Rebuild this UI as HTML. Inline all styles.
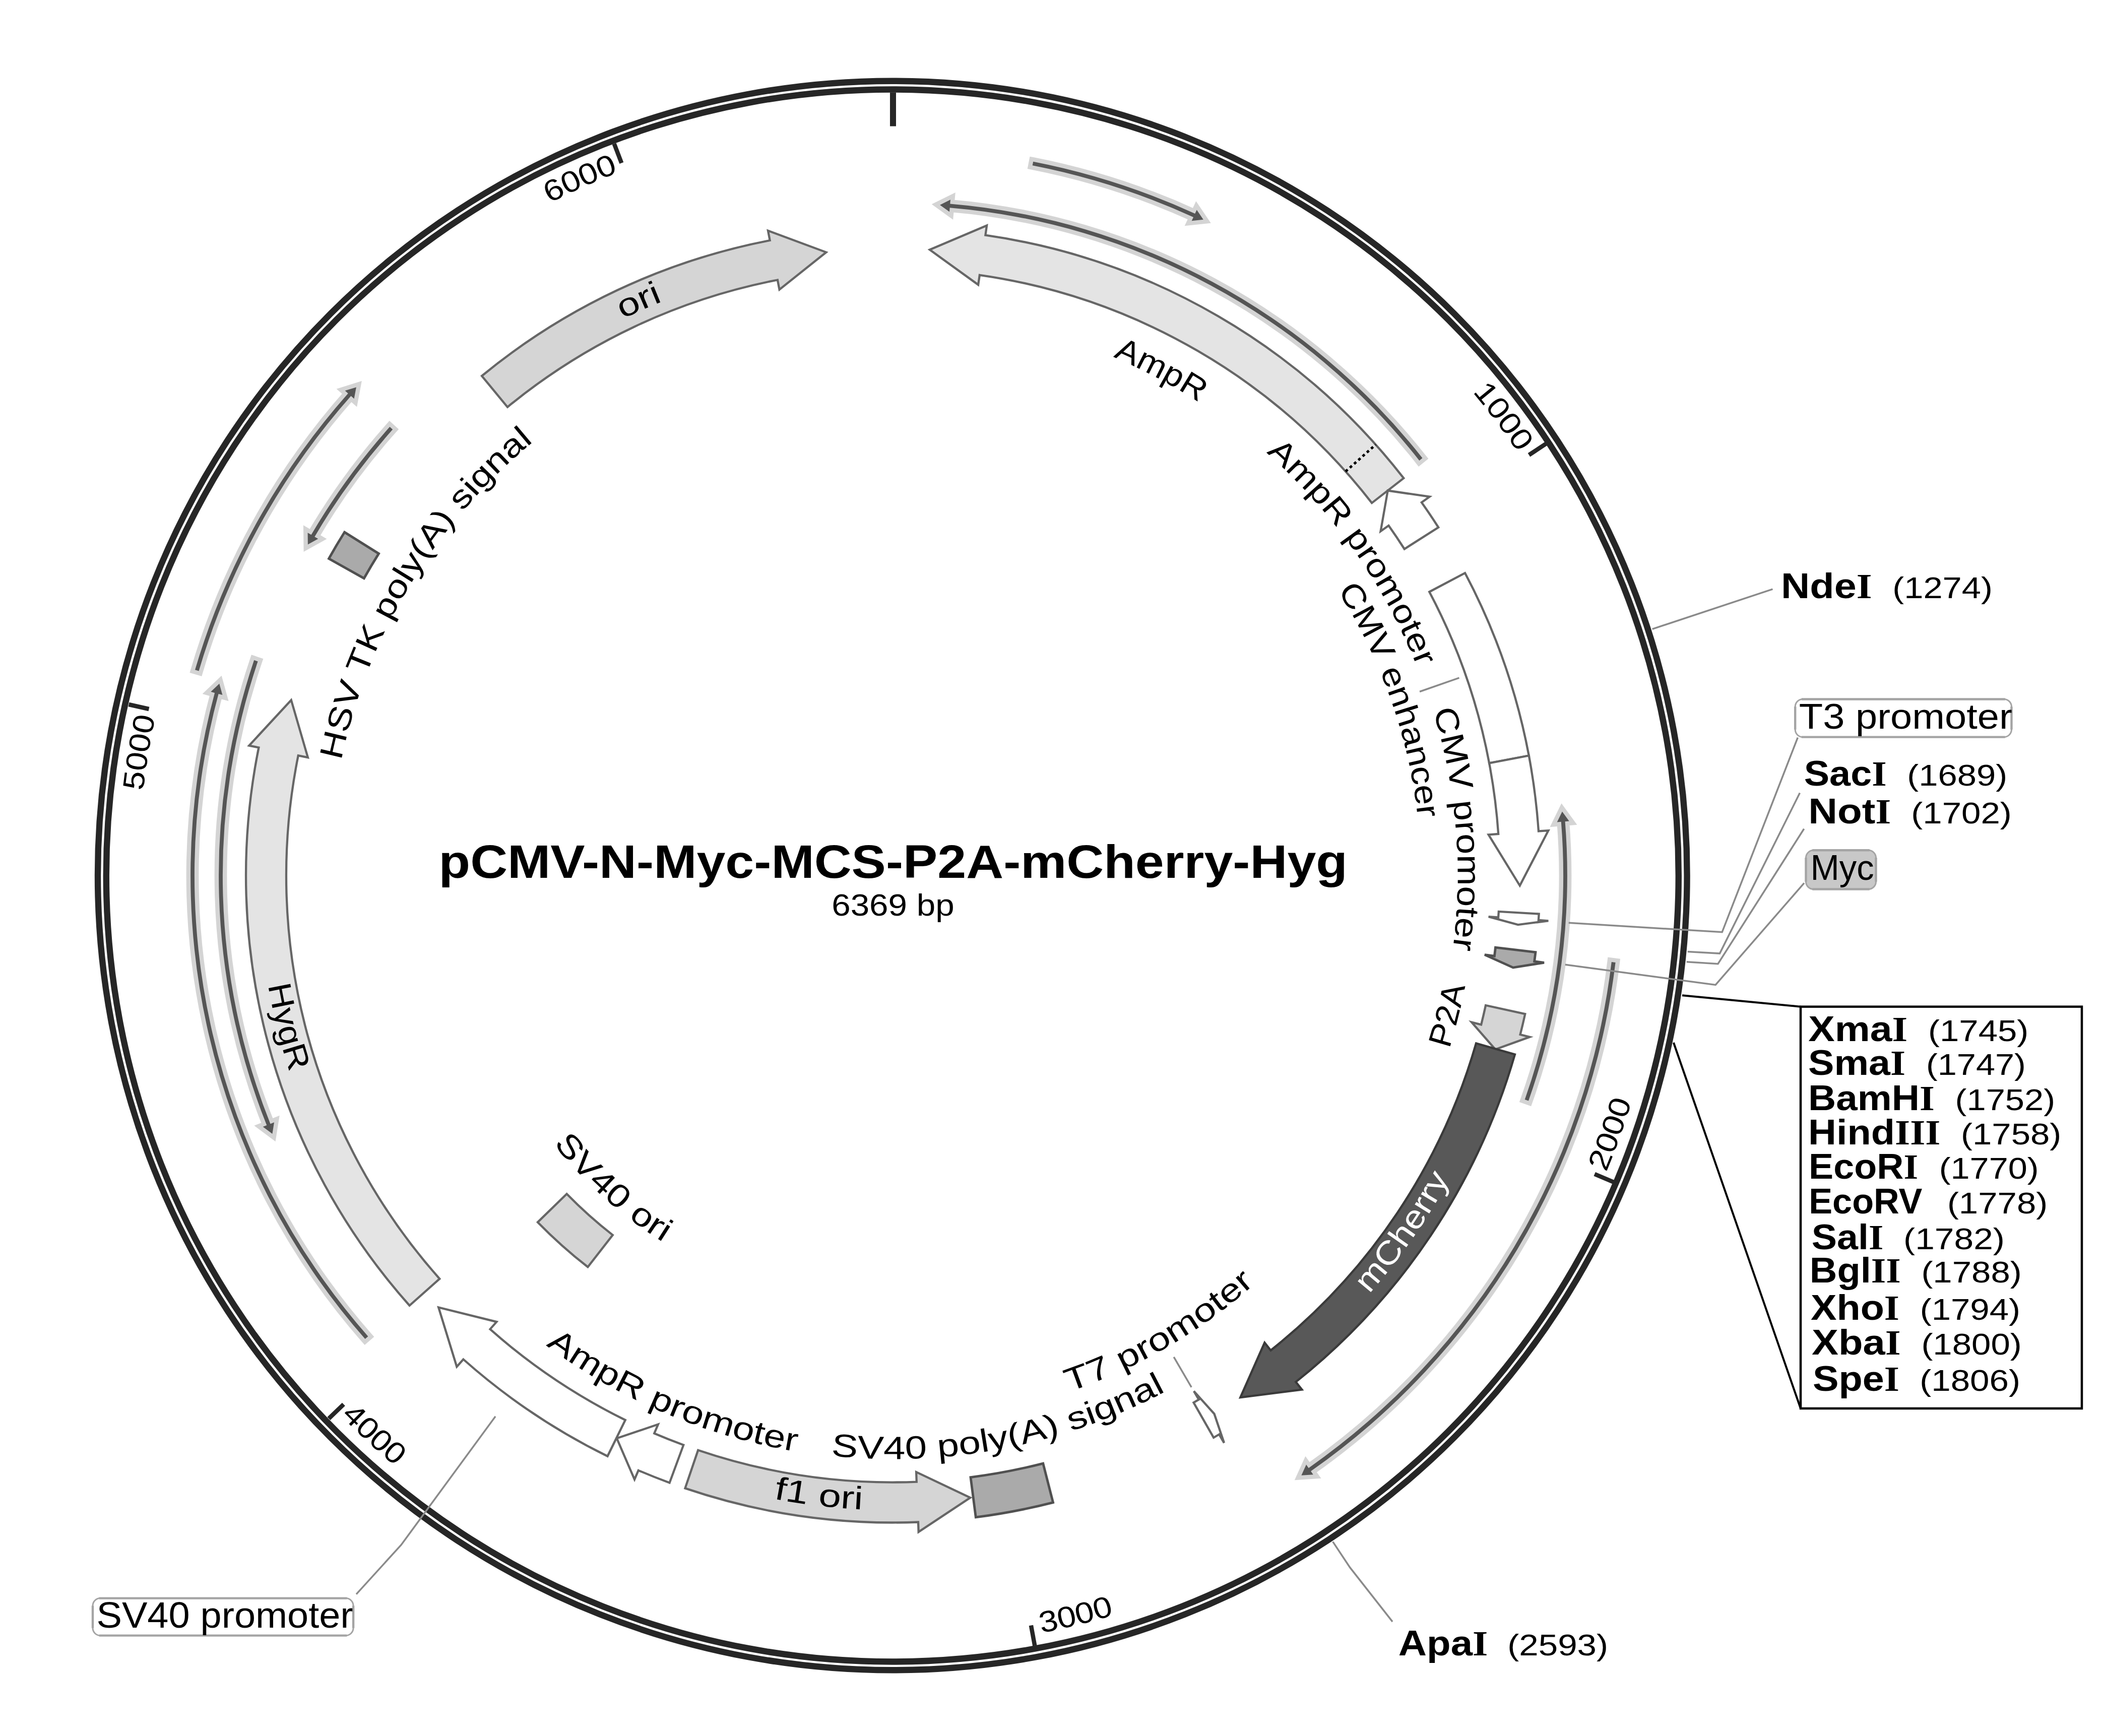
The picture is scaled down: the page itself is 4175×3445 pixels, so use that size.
<!DOCTYPE html><html><head><meta charset="utf-8"><title>pCMV-N-Myc-MCS-P2A-mCherry-Hyg</title><style>html,body{margin:0;padding:0;background:#fff;overflow:hidden}</style></head><body><svg width="4175" height="3445" viewBox="0 0 4175 3445" style="display:block">
<rect width="4175" height="3445" fill="#ffffff"/>
<circle cx="1770.8" cy="1737.5" r="1576.8" fill="none" stroke="#262626" stroke-width="12.4"/>
<circle cx="1770.8" cy="1737.5" r="1560.0" fill="none" stroke="#262626" stroke-width="12.4"/>
<line x1="1772.0" y1="183.5" x2="1772.0" y2="250.5" stroke="#262626" stroke-width="12"/>
<line x1="3068.2" y1="880.3" x2="3034.0" y2="902.9" stroke="#262626" stroke-width="8.5"/>
<line x1="3202.0" y1="2345.9" x2="3164.2" y2="2329.8" stroke="#262626" stroke-width="8.5"/>
<line x1="2053.3" y1="3265.8" x2="2045.9" y2="3225.5" stroke="#262626" stroke-width="8.5"/>
<line x1="652.4" y1="2815.1" x2="681.9" y2="2786.7" stroke="#262626" stroke-width="8.5"/>
<line x1="255.5" y1="1398.0" x2="295.5" y2="1407.0" stroke="#262626" stroke-width="8.5"/>
<line x1="1218.7" y1="285.3" x2="1233.3" y2="323.6" stroke="#262626" stroke-width="8.5"/>
<path d="M2785.3,948.9 A1284.0,1284.0 0 0 0 1955.4,466.7 L1958.1,447.4 L1844.9,495.6 L1941.1,565.1 L1943.9,545.8 A1204.0,1204.0 0 0 1 2722.2,998.1 Z" fill="#e4e4e4" stroke="#666666" stroke-width="4.3" stroke-linejoin="miter" />
<line x1="2670.1" y1="935.6" x2="2729.8" y2="882.3" stroke="#000" stroke-width="5" stroke-dasharray="5.5,5.8"/>
<path d="M2854.2,1046.5 A1284.0,1284.0 0 0 0 2820.9,996.9 L2836.8,985.7 L2753.8,973.5 L2739.6,1054.3 L2755.5,1043.0 A1204.0,1204.0 0 0 1 2786.8,1089.5 Z" fill="#ffffff" stroke="#666666" stroke-width="4.3" stroke-linejoin="miter" />
<path d="M2907.0,1137.1 A1284.0,1284.0 0 0 1 3033.8,1499.5 L2955.1,1514.4 A1204.0,1204.0 0 0 0 2836.3,1174.5 Z" fill="#ffffff" stroke="#666666" stroke-width="4.3" stroke-linejoin="miter" />
<path d="M3033.8,1499.5 A1284.0,1284.0 0 0 1 3053.0,1649.5 L3072.4,1648.2 L3015.8,1757.5 L2953.7,1656.3 L2973.2,1655.0 A1204.0,1204.0 0 0 0 2955.1,1514.4 Z" fill="#ffffff" stroke="#666666" stroke-width="4.3" stroke-linejoin="miter" />
<path d="M3053.7,1813.6 A1284.0,1284.0 0 0 1 3052.9,1825.9 L3072.4,1827.3 L3012.2,1835.1 L2953.7,1819.1 L2973.1,1820.4 A1204.0,1204.0 0 0 0 2973.9,1808.9 Z" fill="#ffffff" stroke="#666666" stroke-width="4.3" stroke-linejoin="miter" />
<path d="M3047.0,1889.5 A1284.0,1284.0 0 0 1 3044.7,1907.8 L3064.0,1910.3 L3002.5,1920.1 L2946.0,1894.6 L2965.4,1897.2 A1204.0,1204.0 0 0 0 2967.5,1880.1 Z" fill="#aaaaaa" stroke="#505050" stroke-width="4.8" stroke-linejoin="miter" />
<path d="M3026.3,2012.1 A1284.0,1284.0 0 0 1 3016.6,2053.0 L3035.5,2057.8 L2967.2,2082.5 L2920.2,2028.6 L2939.1,2033.4 A1204.0,1204.0 0 0 0 2948.1,1995.0 Z" fill="#d5d5d5" stroke="#666666" stroke-width="4.3" stroke-linejoin="miter" />
<path d="M3006.0,2092.5 A1284.0,1284.0 0 0 1 2571.3,2742.4 L2583.4,2757.6 L2461.3,2773.1 L2509.4,2664.5 L2521.5,2679.8 A1204.0,1204.0 0 0 0 2929.1,2070.4 Z" fill="#585858" stroke="#3a3a3a" stroke-width="4.3" stroke-linejoin="miter" />
<path d="M2408.2,2852.8 A1284.0,1284.0 0 0 0 2419.1,2846.5 L2429.0,2863.3 L2409.5,2805.7 L2369.0,2760.6 L2378.8,2777.4 A1204.0,1204.0 0 0 1 2368.5,2783.3 Z" fill="#ffffff" stroke="#666666" stroke-width="4.3" stroke-linejoin="miter" />
<path d="M2089.6,2981.6 A1284.0,1284.0 0 0 1 1936.3,3010.9 L1926.0,2931.6 A1204.0,1204.0 0 0 0 2069.8,2904.1 Z" fill="#aaaaaa" stroke="#505050" stroke-width="4.8" stroke-linejoin="miter" />
<path d="M1359.5,2953.4 A1284.0,1284.0 0 0 0 1822.0,3020.5 L1822.7,3040.0 L1925.3,2972.0 L1818.1,2921.1 L1818.8,2940.6 A1204.0,1204.0 0 0 1 1385.2,2877.7 Z" fill="#d5d5d5" stroke="#666666" stroke-width="4.3" stroke-linejoin="miter" />
<path d="M1328.6,2942.5 A1284.0,1284.0 0 0 1 1266.8,2917.9 L1259.1,2935.9 L1223.9,2854.3 L1305.9,2826.5 L1298.3,2844.4 A1204.0,1204.0 0 0 0 1356.3,2867.4 Z" fill="#ffffff" stroke="#666666" stroke-width="4.3" stroke-linejoin="miter" />
<path d="M1205.5,2889.8 A1284.0,1284.0 0 0 1 919.4,2697.5 L906.4,2712.1 L870.2,2594.4 L985.4,2623.1 L972.5,2637.7 A1204.0,1204.0 0 0 0 1240.8,2818.0 Z" fill="#ffffff" stroke="#666666" stroke-width="4.3" stroke-linejoin="miter" />
<path d="M1166.4,2514.3 A985.0,985.0 0 0 1 1067.0,2425.4 L1124.6,2369.3 A904.6,904.6 0 0 0 1215.8,2450.9 Z" fill="#d5d5d5" stroke="#666666" stroke-width="4.3" stroke-linejoin="miter" />
<path d="M812.6,2590.8 A1284.0,1284.0 0 0 1 513.4,1483.5 L494.3,1479.6 L577.8,1389.2 L610.9,1503.2 L591.8,1499.3 A1204.0,1204.0 0 0 0 872.3,2537.7 Z" fill="#e4e4e4" stroke="#666666" stroke-width="4.3" stroke-linejoin="miter" />
<path d="M652.6,1108.5 A1284.0,1284.0 0 0 1 683.7,1056.1 L751.5,1098.6 A1204.0,1204.0 0 0 0 722.3,1147.7 Z" fill="#aaaaaa" stroke="#505050" stroke-width="4.8" stroke-linejoin="miter" />
<path d="M956.1,746.0 A1284.0,1284.0 0 0 1 1527.7,477.0 L1524.0,457.8 L1639.4,500.6 L1546.6,574.6 L1542.9,555.5 A1204.0,1204.0 0 0 0 1007.0,807.8 Z" fill="#d5d5d5" stroke="#666666" stroke-width="4.3" stroke-linejoin="miter" />
<path d="M2050.2,320.7 A1443.9,1443.9 0 0 1 2371.3,423.9 L2374.7,416.5 L2387.8,435.8 L2364.7,438.3 L2368.1,431.0 A1436.1,1436.1 0 0 0 2048.7,328.3 Z" fill="#555555" stroke="#d4d4d4" stroke-width="17" stroke-linejoin="miter" stroke-miterlimit="10" paint-order="stroke"/>
<path d="M2822.5,909.0 A1337.9,1337.9 0 0 0 1885.3,404.4 L1886.0,396.3 L1865.1,406.7 L1884.0,420.3 L1884.7,412.2 A1330.1,1330.1 0 0 1 2816.4,913.9 Z" fill="#555555" stroke="#d4d4d4" stroke-width="17" stroke-linejoin="miter" stroke-miterlimit="10" paint-order="stroke"/>
<path d="M387.0,1329.3 A1443.9,1443.9 0 0 1 690.7,780.7 L684.6,775.3 L706.9,768.4 L702.6,791.2 L696.5,785.8 A1436.1,1436.1 0 0 0 394.5,1331.5 Z" fill="#555555" stroke="#d4d4d4" stroke-width="17" stroke-linejoin="miter" stroke-miterlimit="10" paint-order="stroke"/>
<path d="M773.4,847.1 A1337.9,1337.9 0 0 0 617.6,1061.3 L610.6,1057.2 L610.9,1080.6 L631.3,1069.3 L624.3,1065.2 A1330.1,1330.1 0 0 1 779.2,852.3 Z" fill="#555555" stroke="#d4d4d4" stroke-width="17" stroke-linejoin="miter" stroke-miterlimit="10" paint-order="stroke"/>
<path d="M724.5,2657.1 A1393.9,1393.9 0 0 1 426.1,1375.0 L418.3,1372.8 L435.2,1356.7 L441.4,1379.1 L433.6,1377.0 A1386.1,1386.1 0 0 0 730.4,2652.0 Z" fill="#555555" stroke="#d4d4d4" stroke-width="17" stroke-linejoin="miter" stroke-miterlimit="10" paint-order="stroke"/>
<path d="M504.2,1310.1 A1337.9,1337.9 0 0 0 529.3,2233.1 L521.7,2236.1 L540.4,2250.1 L544.0,2227.2 L536.5,2230.2 A1330.1,1330.1 0 0 1 511.6,1312.6 Z" fill="#555555" stroke="#d4d4d4" stroke-width="17" stroke-linejoin="miter" stroke-miterlimit="10" paint-order="stroke"/>
<path d="M3033.0,2184.5 A1337.9,1337.9 0 0 0 3105.6,1630.2 L3113.7,1629.5 L3099.9,1610.6 L3089.7,1631.5 L3097.8,1630.8 A1330.1,1330.1 0 0 1 3025.7,2181.9 Z" fill="#555555" stroke="#d4d4d4" stroke-width="17" stroke-linejoin="miter" stroke-miterlimit="10" paint-order="stroke"/>
<path d="M3205.6,1910.0 A1443.9,1443.9 0 0 1 2601.1,2919.6 L2605.8,2926.2 L2582.4,2927.8 L2592.0,2906.6 L2596.7,2913.2 A1436.1,1436.1 0 0 0 3197.8,1909.0 Z" fill="#555555" stroke="#d4d4d4" stroke-width="17" stroke-linejoin="miter" stroke-miterlimit="10" paint-order="stroke"/>
<polyline points="2817.1,1372.5 2895.5,1345.2" fill="none" stroke="#8a8a8a" stroke-width="3.5" stroke-linejoin="miter"/>
<polyline points="2329.2,2692.9 2364.2,2752.9" fill="none" stroke="#8a8a8a" stroke-width="3.5" stroke-linejoin="miter"/>
<polyline points="3278.6,1248.3 3517.5,1169.2" fill="none" stroke="#8a8a8a" stroke-width="3.5" stroke-linejoin="miter"/>
<polyline points="3112.7,1831.3 3417.2,1849.8 3567.3,1463.6" fill="none" stroke="#8a8a8a" stroke-width="3.5" stroke-linejoin="miter"/>
<polyline points="3348.8,1888.5 3412.5,1892.1 3571.4,1573.5" fill="none" stroke="#8a8a8a" stroke-width="3.5" stroke-linejoin="miter"/>
<polyline points="3346.7,1908.8 3409.0,1912.8 3579.7,1644.8" fill="none" stroke="#8a8a8a" stroke-width="3.5" stroke-linejoin="miter"/>
<polyline points="3105.8,1914.3 3404.2,1954.4 3580.0,1752.4" fill="none" stroke="#8a8a8a" stroke-width="3.5" stroke-linejoin="miter"/>
<polyline points="2644.7,3059.4 2678.8,3110.6 2763.1,3218.2" fill="none" stroke="#8a8a8a" stroke-width="3.5" stroke-linejoin="miter"/>
<polyline points="983.1,2810.7 795.9,3066.0 707.0,3163.6" fill="none" stroke="#8a8a8a" stroke-width="3.5" stroke-linejoin="miter"/>
<polyline points="3338.0,1975.3 3573.0,1997.7" fill="none" stroke="#000" stroke-width="4" stroke-linejoin="miter"/>
<polyline points="3320.9,2069.0 3573.0,2795.0" fill="none" stroke="#000" stroke-width="4" stroke-linejoin="miter"/>
<rect x="3573" y="1997.7" width="558" height="797.3" fill="#fff" stroke="#000" stroke-width="4.5"/>
<rect x="3562.2" y="1387.5" width="429.3" height="75.1" rx="15" fill="#fff" stroke="#a4a4a4" stroke-width="3"/>
<path d="M3575.0,1387.5 H3978.7 M3575.0,1462.6 H3978.7 M3562.2,1402.3 V1447.8 M3991.5,1402.3 V1447.8" stroke="#a4a4a4" stroke-width="4.4" fill="none"/>
<rect x="3583.5" y="1687.3" width="139.0" height="77.2" rx="15" fill="#c8c8c8" stroke="#a4a4a4" stroke-width="3"/>
<path d="M3596.3,1687.3 H3709.7 M3596.3,1764.5 H3709.7 M3583.5,1702.1 V1749.7 M3722.5,1702.1 V1749.7" stroke="#a4a4a4" stroke-width="4.4" fill="none"/>
<rect x="184.0" y="3171.6" width="517.1" height="74.0" rx="15" fill="#fff" stroke="#a4a4a4" stroke-width="3"/>
<path d="M196.8,3171.6 H688.3 M196.8,3245.6 H688.3 M184.0,3186.4 V3230.8 M701.1,3186.4 V3230.8" stroke="#a4a4a4" stroke-width="4.4" fill="none"/>
<text x="870.6" y="1741.5" font-family='"Liberation Sans", sans-serif' font-size="92" font-weight="bold" fill="#000" textLength="1803.3" lengthAdjust="spacingAndGlyphs">pCMV-N-Myc-MCS-P2A-mCherry-Hyg</text>
<text x="1650.2" y="1817.4" font-family='"Liberation Sans", sans-serif' font-size="62" font-weight="normal" fill="#000" textLength="243.5" lengthAdjust="spacingAndGlyphs">6369 bp</text>
<text x="3534.0" y="1187.3" font-family='"Liberation Sans", sans-serif' font-size="70" font-weight="bold" fill="#000" textLength="180.6" lengthAdjust="spacingAndGlyphs">Nde<tspan font-family="Liberation Serif">I</tspan></text>
<text x="3755.3" y="1187.3" font-family='"Liberation Sans", sans-serif' font-size="60" font-weight="normal" fill="#000" textLength="198.6" lengthAdjust="spacingAndGlyphs">(1274)</text>
<text x="3579.7" y="1558.9" font-family='"Liberation Sans", sans-serif' font-size="70" font-weight="bold" fill="#000" textLength="164.0" lengthAdjust="spacingAndGlyphs">Sac<tspan font-family="Liberation Serif">I</tspan></text>
<text x="3784.3" y="1558.7" font-family='"Liberation Sans", sans-serif' font-size="60" font-weight="normal" fill="#000" textLength="198.9" lengthAdjust="spacingAndGlyphs">(1689)</text>
<text x="3588.2" y="1634.2" font-family='"Liberation Sans", sans-serif' font-size="70" font-weight="bold" fill="#000" textLength="164.2" lengthAdjust="spacingAndGlyphs">Not<tspan font-family="Liberation Serif">I</tspan></text>
<text x="3792.3" y="1633.8" font-family='"Liberation Sans", sans-serif' font-size="60" font-weight="normal" fill="#000" textLength="199.5" lengthAdjust="spacingAndGlyphs">(1702)</text>
<text x="2774.8" y="3284.6" font-family='"Liberation Sans", sans-serif' font-size="70" font-weight="bold" fill="#000" textLength="177.6" lengthAdjust="spacingAndGlyphs">Apa<tspan font-family="Liberation Serif">I</tspan></text>
<text x="2991.2" y="3284.6" font-family='"Liberation Sans", sans-serif' font-size="60" font-weight="normal" fill="#000" textLength="199.9" lengthAdjust="spacingAndGlyphs">(2593)</text>
<text x="3588.2" y="2065.6" font-family='"Liberation Sans", sans-serif' font-size="70" font-weight="bold" fill="#000" textLength="197.0" lengthAdjust="spacingAndGlyphs">Xma<tspan font-family="Liberation Serif">I</tspan></text>
<text x="3826.0" y="2065.6" font-family='"Liberation Sans", sans-serif' font-size="60" font-weight="normal" fill="#000" textLength="199.3" lengthAdjust="spacingAndGlyphs">(1745)</text>
<text x="3588.0" y="2133.3" font-family='"Liberation Sans", sans-serif' font-size="70" font-weight="bold" fill="#000" textLength="193.1" lengthAdjust="spacingAndGlyphs">Sma<tspan font-family="Liberation Serif">I</tspan></text>
<text x="3821.9" y="2133.3" font-family='"Liberation Sans", sans-serif' font-size="60" font-weight="normal" fill="#000" textLength="198.0" lengthAdjust="spacingAndGlyphs">(1747)</text>
<text x="3588.0" y="2203.2" font-family='"Liberation Sans", sans-serif' font-size="70" font-weight="bold" fill="#000" textLength="250.9" lengthAdjust="spacingAndGlyphs">BamH<tspan font-family="Liberation Serif">I</tspan></text>
<text x="3879.6" y="2203.2" font-family='"Liberation Sans", sans-serif' font-size="60" font-weight="normal" fill="#000" textLength="198.5" lengthAdjust="spacingAndGlyphs">(1752)</text>
<text x="3588.0" y="2271.0" font-family='"Liberation Sans", sans-serif' font-size="70" font-weight="bold" fill="#000" textLength="262.4" lengthAdjust="spacingAndGlyphs">Hind<tspan font-family="Liberation Serif">III</tspan></text>
<text x="3891.0" y="2271.0" font-family='"Liberation Sans", sans-serif' font-size="60" font-weight="normal" fill="#000" textLength="199.3" lengthAdjust="spacingAndGlyphs">(1758)</text>
<text x="3589.0" y="2338.7" font-family='"Liberation Sans", sans-serif' font-size="70" font-weight="bold" fill="#000" textLength="217.1" lengthAdjust="spacingAndGlyphs">EcoR<tspan font-family="Liberation Serif">I</tspan></text>
<text x="3847.7" y="2338.7" font-family='"Liberation Sans", sans-serif' font-size="60" font-weight="normal" fill="#000" textLength="197.9" lengthAdjust="spacingAndGlyphs">(1770)</text>
<text x="3589.2" y="2408.4" font-family='"Liberation Sans", sans-serif' font-size="70" font-weight="bold" fill="#000" textLength="225.3" lengthAdjust="spacingAndGlyphs">EcoRV</text>
<text x="3863.9" y="2408.4" font-family='"Liberation Sans", sans-serif' font-size="60" font-weight="normal" fill="#000" textLength="199.3" lengthAdjust="spacingAndGlyphs">(1778)</text>
<text x="3594.8" y="2478.9" font-family='"Liberation Sans", sans-serif' font-size="70" font-weight="bold" fill="#000" textLength="142.5" lengthAdjust="spacingAndGlyphs">Sal<tspan font-family="Liberation Serif">I</tspan></text>
<text x="3777.1" y="2478.9" font-family='"Liberation Sans", sans-serif' font-size="60" font-weight="normal" fill="#000" textLength="200.8" lengthAdjust="spacingAndGlyphs">(1782)</text>
<text x="3590.8" y="2544.7" font-family='"Liberation Sans", sans-serif' font-size="70" font-weight="bold" fill="#000" textLength="180.9" lengthAdjust="spacingAndGlyphs">Bgl<tspan font-family="Liberation Serif">II</tspan></text>
<text x="3812.4" y="2544.7" font-family='"Liberation Sans", sans-serif' font-size="60" font-weight="normal" fill="#000" textLength="199.4" lengthAdjust="spacingAndGlyphs">(1788)</text>
<text x="3593.0" y="2619.0" font-family='"Liberation Sans", sans-serif' font-size="70" font-weight="bold" fill="#000" textLength="175.9" lengthAdjust="spacingAndGlyphs">Xho<tspan font-family="Liberation Serif">I</tspan></text>
<text x="3809.7" y="2619.0" font-family='"Liberation Sans", sans-serif' font-size="60" font-weight="normal" fill="#000" textLength="199.3" lengthAdjust="spacingAndGlyphs">(1794)</text>
<text x="3594.9" y="2688.3" font-family='"Liberation Sans", sans-serif' font-size="70" font-weight="bold" fill="#000" textLength="176.8" lengthAdjust="spacingAndGlyphs">Xba<tspan font-family="Liberation Serif">I</tspan></text>
<text x="3812.4" y="2688.3" font-family='"Liberation Sans", sans-serif' font-size="60" font-weight="normal" fill="#000" textLength="199.4" lengthAdjust="spacingAndGlyphs">(1800)</text>
<text x="3597.0" y="2760.1" font-family='"Liberation Sans", sans-serif' font-size="70" font-weight="bold" fill="#000" textLength="172.0" lengthAdjust="spacingAndGlyphs">Spe<tspan font-family="Liberation Serif">I</tspan></text>
<text x="3809.2" y="2760.1" font-family='"Liberation Sans", sans-serif' font-size="60" font-weight="normal" fill="#000" textLength="199.8" lengthAdjust="spacingAndGlyphs">(1806)</text>
<text x="3569.8" y="1446.4" font-family='"Liberation Sans", sans-serif' font-size="71" font-weight="normal" fill="#000" textLength="423.0" lengthAdjust="spacingAndGlyphs">T3 promoter</text>
<text x="3592.4" y="1746.1" font-family='"Liberation Sans", sans-serif' font-size="71" font-weight="normal" fill="#000" textLength="126.2" lengthAdjust="spacingAndGlyphs">Myc</text>
<text x="191.4" y="3229.5" font-family='"Liberation Sans", sans-serif' font-size="72" font-weight="normal" fill="#000" textLength="509.1" lengthAdjust="spacingAndGlyphs">SV40 promoter</text>
<defs>
<path id="lp0" d="M790.1,1198.8 A1120.0,1120.0 0 0 1 2772.1,2241.6"/>
<path id="lp1" d="M1142.5,811.2 A1120.0,1120.0 0 0 1 2433.5,2641.3"/>
<path id="lp2" d="M1700.7,619.8 A1120.0,1120.0 0 0 1 1882.3,2852.1"/>
<path id="lp3" d="M1442.2,743.8 A1047.0,1047.0 0 0 1 2136.3,2719.1"/>
<path id="lp4" d="M1510.7,2864.6 A1157.0,1157.0 0 0 0 2072.4,620.2"/>
<path id="lp5" d="M1069.8,2782.5 A1259.0,1259.0 0 0 0 2510.2,717.7"/>
<path id="lp6" d="M842.8,2297.6 A1085.0,1085.0 0 0 0 2720.2,1210.2"/>
<path id="lp7" d="M638.6,1974.9 A1158.0,1158.0 0 0 0 2913.0,1539.8"/>
<path id="lp8" d="M519.7,1608.1 A1259.0,1259.0 0 0 0 3019.1,1910.5"/>
<path id="lp9" d="M698.3,1303.7 A1158.0,1158.0 0 0 0 2829.9,2208.5"/>
<path id="lp10" d="M1123.5,1178.7 A856.0,856.0 0 0 0 2400.6,2318.6"/>
<path id="lp11" d="M1445.1,521.7 A1259.0,1259.0 0 0 0 2056.3,2964.0"/>
<path id="lp12" d="M1178.5,2687.3 A1120.0,1120.0 0 0 1 2332.0,767.6"/>
<path id="lp13" d="M641.2,2216.3 A1228.0,1228.0 0 0 1 2885.4,1219.5"/>
<path id="lp14" d="M894.2,524.9 A1497.0,1497.0 0 0 1 2691.6,2918.8"/>
<path id="lp15" d="M1278.0,3188.7 A1533.0,1533.0 0 0 0 2316.4,304.4"/>
<path id="lp16" d="M289.9,2129.1 A1533.0,1533.0 0 0 0 3266.9,1397.9"/>
<path id="lp17" d="M631.0,713.7 A1533.0,1533.0 0 0 0 2876.6,2800.5"/>
<path id="lp18" d="M1504.3,3210.4 A1497.0,1497.0 0 0 1 1988.1,256.2"/>
<path id="lp19" d="M395.5,2326.0 A1497.0,1497.0 0 0 1 3127.1,1101.3"/>
</defs>
<text font-family='"Liberation Sans", sans-serif' font-size="64" font-weight="normal" fill="#000"><textPath href="#lp0" startOffset="1741.3" text-anchor="middle" textLength="193.3" lengthAdjust="spacingAndGlyphs">AmpR</textPath></text>
<text font-family='"Liberation Sans", sans-serif' font-size="64" font-weight="normal" fill="#000"><textPath href="#lp1" startOffset="1740.2" text-anchor="middle" textLength="525.6" lengthAdjust="spacingAndGlyphs">AmpR promoter</textPath></text>
<text font-family='"Liberation Sans", sans-serif' font-size="64" font-weight="normal" fill="#000"><textPath href="#lp2" startOffset="1738.5" text-anchor="middle" textLength="479.9" lengthAdjust="spacingAndGlyphs">CMV promoter</textPath></text>
<text font-family='"Liberation Sans", sans-serif' font-size="64" font-weight="normal" fill="#000"><textPath href="#lp3" startOffset="1625.1" text-anchor="middle" textLength="483.5" lengthAdjust="spacingAndGlyphs">CMV enhancer</textPath></text>
<text font-family='"Liberation Sans", sans-serif' font-size="64" font-weight="normal" fill="#000"><textPath href="#lp4" startOffset="1794.7" text-anchor="middle" textLength="129.0" lengthAdjust="spacingAndGlyphs">P2A</textPath></text>
<text font-family='"Liberation Sans", sans-serif' font-size="64" font-weight="normal" fill="#fff"><textPath href="#lp5" startOffset="1953.4" text-anchor="middle" textLength="279.7" lengthAdjust="spacingAndGlyphs">mCherry</textPath></text>
<text font-family='"Liberation Sans", sans-serif' font-size="64" font-weight="normal" fill="#000"><textPath href="#lp6" startOffset="1685.0" text-anchor="middle" textLength="429.3" lengthAdjust="spacingAndGlyphs">T7 promoter</textPath></text>
<text font-family='"Liberation Sans", sans-serif' font-size="64" font-weight="normal" fill="#000"><textPath href="#lp7" startOffset="1799.6" text-anchor="middle" textLength="686.7" lengthAdjust="spacingAndGlyphs">SV40 poly(A) signal</textPath></text>
<text font-family='"Liberation Sans", sans-serif' font-size="64" font-weight="normal" fill="#000"><textPath href="#lp8" startOffset="1957.8" text-anchor="middle" textLength="178.1" lengthAdjust="spacingAndGlyphs">f1 ori</textPath></text>
<text font-family='"Liberation Sans", sans-serif' font-size="64" font-weight="normal" fill="#000"><textPath href="#lp9" startOffset="1799.3" text-anchor="middle" textLength="544.4" lengthAdjust="spacingAndGlyphs">AmpR promoter</textPath></text>
<text font-family='"Liberation Sans", sans-serif' font-size="64" font-weight="normal" fill="#000"><textPath href="#lp10" startOffset="1330.4" text-anchor="middle" textLength="293.8" lengthAdjust="spacingAndGlyphs">SV40 ori</textPath></text>
<text font-family='"Liberation Sans", sans-serif' font-size="64" font-weight="normal" fill="#000"><textPath href="#lp11" startOffset="1954.6" text-anchor="middle" textLength="178.5" lengthAdjust="spacingAndGlyphs">HygR</textPath></text>
<text font-family='"Liberation Sans", sans-serif' font-size="64" font-weight="normal" fill="#000"><textPath href="#lp12" startOffset="1739.2" text-anchor="middle" textLength="753.8" lengthAdjust="spacingAndGlyphs">HSV TK poly(A) signal</textPath></text>
<text font-family='"Liberation Sans", sans-serif' font-size="64" font-weight="normal" fill="#000"><textPath href="#lp13" startOffset="1908.5" text-anchor="middle" textLength="87.2" lengthAdjust="spacingAndGlyphs">ori</textPath></text>
<text font-family='"Liberation Sans", sans-serif' font-size="59" font-weight="normal" fill="#000"><textPath href="#lp14" startOffset="2324.1" text-anchor="middle" textLength="151.5" lengthAdjust="spacingAndGlyphs">1000</textPath></text>
<text font-family='"Liberation Sans", sans-serif' font-size="59" font-weight="normal" fill="#000"><textPath href="#lp15" startOffset="2380.9" text-anchor="middle" textLength="149.8" lengthAdjust="spacingAndGlyphs">2000</textPath></text>
<text font-family='"Liberation Sans", sans-serif' font-size="59" font-weight="normal" fill="#000"><textPath href="#lp16" startOffset="2381.3" text-anchor="middle" textLength="149.1" lengthAdjust="spacingAndGlyphs">3000</textPath></text>
<text font-family='"Liberation Sans", sans-serif' font-size="59" font-weight="normal" fill="#000"><textPath href="#lp17" startOffset="2381.8" text-anchor="middle" textLength="148.0" lengthAdjust="spacingAndGlyphs">4000</textPath></text>
<text font-family='"Liberation Sans", sans-serif' font-size="59" font-weight="normal" fill="#000"><textPath href="#lp18" startOffset="2325.3" text-anchor="middle" textLength="149.1" lengthAdjust="spacingAndGlyphs">5000</textPath></text>
<text font-family='"Liberation Sans", sans-serif' font-size="59" font-weight="normal" fill="#000"><textPath href="#lp19" startOffset="2325.0" text-anchor="middle" textLength="149.8" lengthAdjust="spacingAndGlyphs">6000</textPath></text>
</svg></body></html>
